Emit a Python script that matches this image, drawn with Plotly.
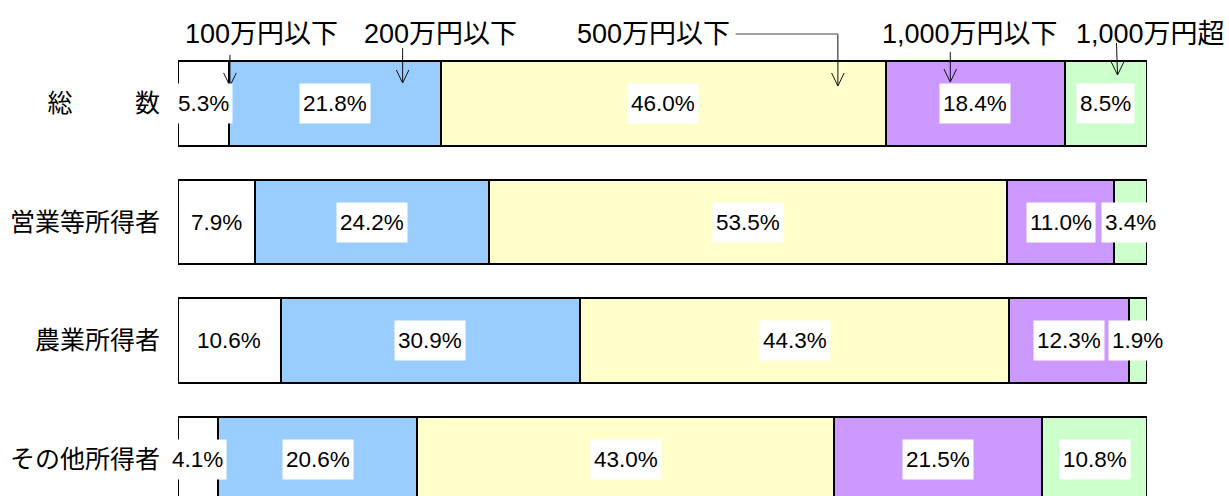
import plotly.graph_objects as go

# ---- data ----
categories = ["総\u3000\u3000\u2002数", "営業等所得者", "農業所得者", "その他所得者"]
series_names = ["100万円以下", "200万円以下", "500万円以下", "1,000万円以下", "1,000万円超"]
v_100 = [5.3, 7.9, 10.6, 4.1]
v_200 = [21.8, 24.2, 30.9, 20.6]
v_500 = [46.0, 53.5, 44.3, 43.0]
v_1000 = [18.4, 11.0, 12.3, 21.5]
v_over = [8.5, 3.4, 1.9, 10.8]
series_values = [v_100, v_200, v_500, v_1000, v_over]
colors = ["#FFFFFF", "#99CCFF", "#FFFFCC", "#CC99FF", "#CCFFCC"]

rows = list(range(len(categories)))

fig = go.Figure()
for name, vals, col in zip(series_names, series_values, colors):
    fig.add_trace(go.Bar(
        x=vals, y=rows, orientation="h", name=name,
        marker=dict(color=col, line=dict(color="black", width=2)),
        width=0.71, hoverinfo="skip", showlegend=False,
    ))

# percentage labels with white boxes, centred in segments
annotations = []
for r in rows:
    cum = 0.0
    for vals in series_values:
        v = vals[r]
        annotations.append(dict(
            x=cum + v / 2, y=r, xref="x", yref="y",
            text=f"{v:.1f}%", showarrow=False,
            font=dict(family="Liberation Sans, Arial, sans-serif", size=22.5, color="black"),
            bgcolor="white", borderpad=3, height=33, valign="middle",
        ))
        cum += v

# series name labels at top (first bar)
label_pos = [0.0862, 0.2713, 0.4909, 0.8173, 1.0036]
for name, px in zip(series_names, label_pos):
    annotations.append(dict(
        x=px, y=0.9315, xref="paper", yref="paper", text=name, showarrow=False,
        xanchor="center", yanchor="middle",
        font=dict(family="Liberation Sans, Noto Sans CJK JP, sans-serif", size=27, color="black"),
    ))

# pointer arrows (x in %, y in row units)
arrow_defs = [
    # (x_top, y_top, x_tip, y_tip)
    (5.36, -0.41, 5.36, -0.148),
    (23.18, -0.468, 23.18, -0.173),
    (68.1, -0.5865, 68.1, -0.148),
    (79.7, -0.435, 79.7, -0.181),
    (96.85, -0.511, 96.96, -0.2405),
]
shapes = []
line_style = dict(color="#111111", width=1)
for (x0, y0, x1, y1) in arrow_defs:
    shapes.append(dict(type="path", xref="x", yref="y",
                       path=f"M {x0},{y0} L {x1},{y1}", line=line_style))
    shapes.append(dict(type="path", xref="x", yref="y",
                       path=f"M {x1-0.65},{y1-0.11} L {x1},{y1} L {x1+0.65},{y1-0.11}",
                       line=line_style))
# horizontal leader for 500万円以下
shapes.append(dict(type="path", xref="x", yref="y",
                   path="M 57.55,-0.5865 L 68.1,-0.5865", line=dict(color="#444444", width=1)))

fig.update_layout(
    width=1229, height=496,
    margin=dict(l=178, r=82, t=0, b=0),
    barmode="stack",
    plot_bgcolor="white", paper_bgcolor="white",
    annotations=annotations, shapes=shapes,
    xaxis=dict(range=[0, 100], showgrid=False, zeroline=False, showticklabels=False,
               showline=False, ticks=""),
    yaxis=dict(range=[3.3122, -0.8734], tickvals=rows, ticktext=categories,
               showgrid=False, zeroline=False, showline=False, ticks="",
               ticklabelstandoff=17,
               tickfont=dict(family="Noto Sans CJK JP, sans-serif", size=25, color="black")),
)

fig.write_html("out.html", config={"displayModeBar": False},
               post_script="document.body.style.margin='0';")
